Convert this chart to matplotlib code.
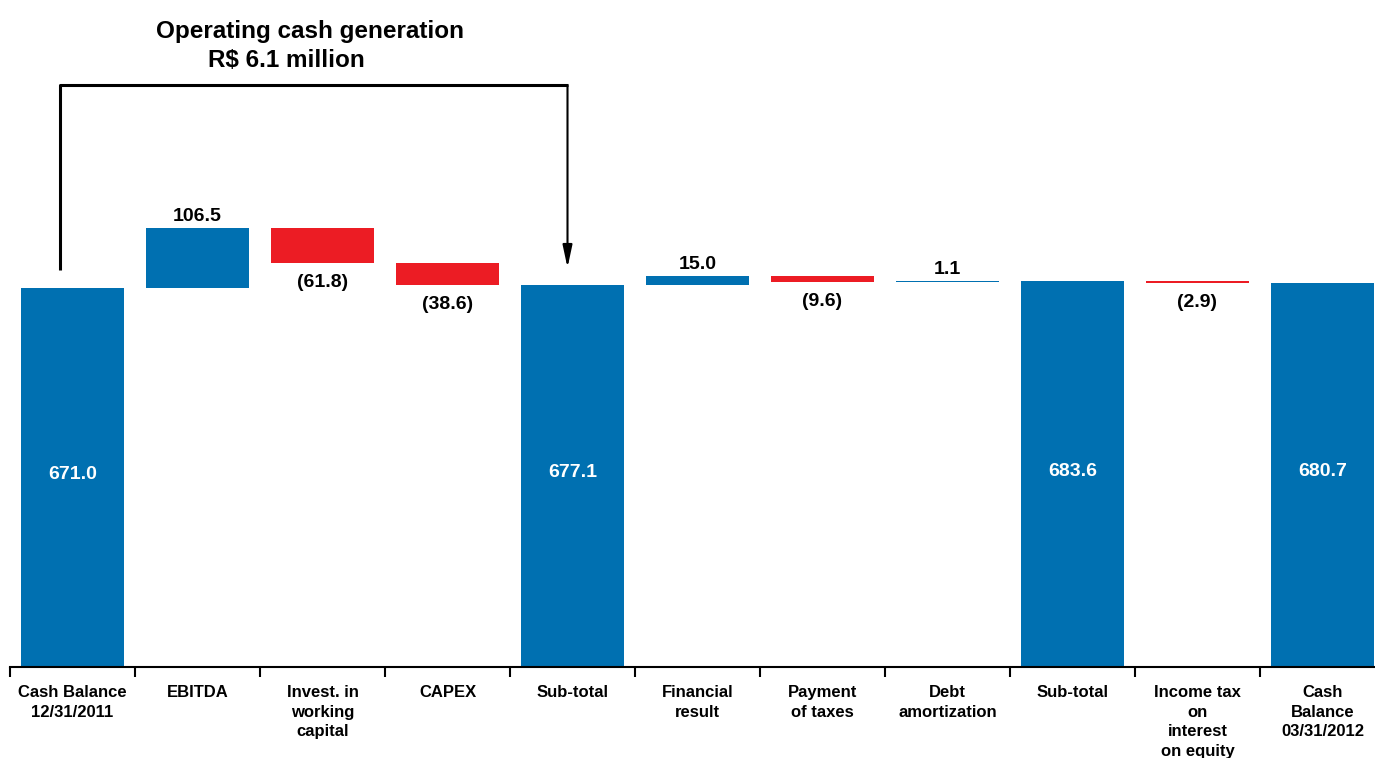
import numpy as np
import matplotlib.pyplot as plt

plt.rcParams['font.family'] = ['Liberation Sans', 'DejaVu Sans']
plt.rcParams['font.weight'] = 'bold'

categories = ['Cash Balance\n12/31/2011', 'EBITDA', 'Invest. in\nworking\ncapital', 'CAPEX',
              'Sub-total', 'Financial\nresult', 'Payment\nof taxes', 'Debt\namortization',
              'Sub-total', 'Income tax\non\ninterest\non equity', 'Cash\nBalance\n03/31/2012']
values = [671.0, 106.5, -61.8, -38.6, 677.1, 15.0, -9.6, 1.1, 683.6, -2.9, 680.7]
is_total = [True, False, False, False, True, False, False, False, True, False, True]

BLUE = '#0070B1'
RED = '#EC1C24'

fig = plt.figure(figsize=(13.75, 7.58), dpi=100)
ax = fig.add_axes([10 / 1375, 91 / 758, 1.0, 667 / 758])

x = np.arange(len(values))
bottoms, heights, colors = [], [], []
running = 0.0
for v, tot in zip(values, is_total):
    if tot:
        bottoms.append(0.0)
        heights.append(v)
        colors.append(BLUE)
        running = v
    else:
        bottoms.append(running if v >= 0 else running + v)
        heights.append(abs(v))
        colors.append(BLUE if v >= 0 else RED)
        running += v

ax.bar(x, heights, bottom=bottoms, width=0.83, color=colors, linewidth=0)

# value labels
for xi, v, tot, b, h in zip(x, values, is_total, bottoms, heights):
    txt = f'{abs(v):.1f}' if v >= 0 else f'({abs(v):.1f})'
    if tot:
        ax.text(xi, h / 2 + 5, txt, ha='center', va='center', color='white', fontsize=14)
    elif v >= 0:
        ax.text(xi, b + h + 5, txt, ha='center', va='bottom', fontsize=14)
    else:
        ax.text(xi, b - 20, txt, ha='center', va='top', fontsize=14)

ax.set_xlim(-0.5, len(values) - 0.5)
ax.set_ylim(0, 1181)

for s in ['top', 'right', 'left']:
    ax.spines[s].set_visible(False)
ax.spines['bottom'].set_linewidth(1.5)
ax.set_yticks([])
ax.set_xticks(x)
ax.set_xticklabels(categories, fontsize=12, linespacing=1.38)
ax.tick_params(axis='x', which='major', length=0, pad=13)
ax.set_xticks(np.arange(-0.5, len(values)), minor=True)
ax.tick_params(axis='x', which='minor', length=7, width=1.5, direction='out')

# bracket for operating cash generation
y_top = 1030
ax.plot([-0.1, -0.1, 3.96], [703, y_top, y_top], color='black', lw=2.2, solid_capstyle='butt')
ax.annotate('', xy=(3.96, 707), xytext=(3.96, y_top),
            arrowprops=dict(arrowstyle='-|>,head_length=0.75,head_width=0.16',
                            color='black', lw=1.5, mutation_scale=18,
                            shrinkA=0, shrinkB=0))
ax.text(1.9, 1126, 'Operating cash generation', ha='center', va='center', fontsize=17.5)
ax.text(1.71, 1074, 'R$ 6.1 million', ha='center', va='center', fontsize=17.5)

fig.savefig('out.png', dpi=100)
